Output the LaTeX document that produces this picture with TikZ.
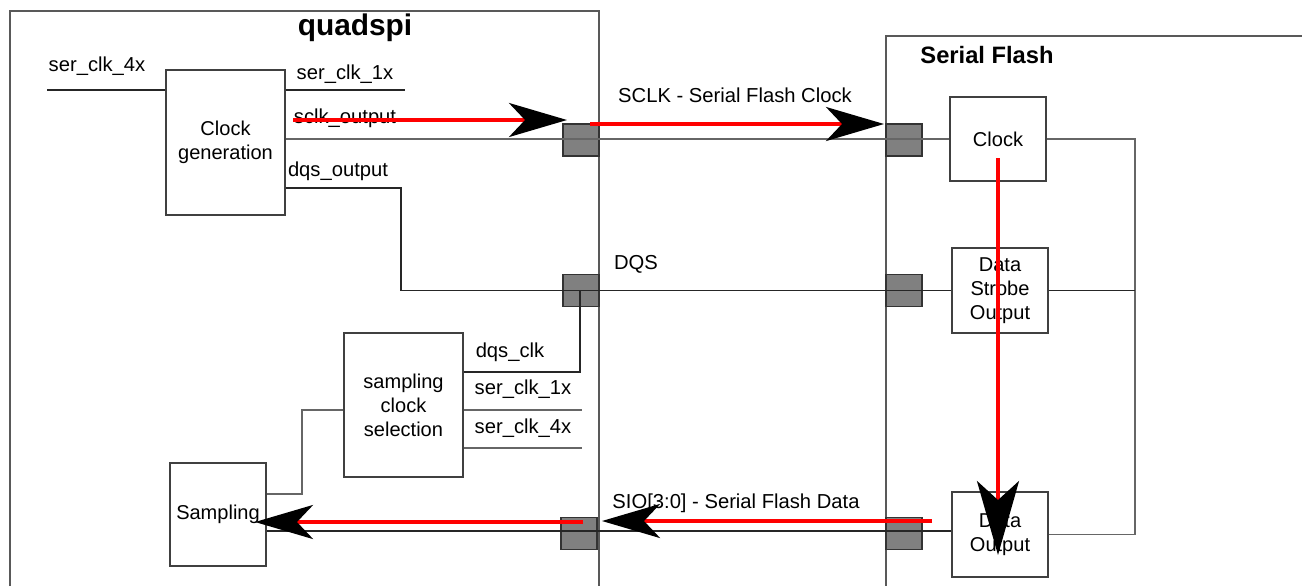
\documentclass[tikz,border=0pt]{standalone}
\usepackage{fontspec}
\setmainfont{Liberation Sans}
\usetikzlibrary{arrows.meta}

\tikzset{
  blk/.style={draw=black!75, fill=white, line width=0.6pt, align=center,
    inner sep=0pt, font=\fontsize{11.4}{13.7}\selectfont},
  pad/.style={draw=black!80, fill=black!50, line width=0.6pt,
    minimum width=0.72cm, minimum height=0.64cm, inner sep=0pt},
  wire/.style={black!85, line width=0.6pt},
  gwire/.style={black!60, line width=0.7pt},
  lbl/.style={font=\fontsize{11.5}{13}\selectfont, inner sep=0pt},
  sig/.style={red, line width=2.2pt,
    -{Stealth[color=black, length=1.16cm, width=0.68cm, inset=0.32cm]}},
  bigsig/.style={red, line width=2.2pt,
    -{Stealth[color=black, length=1.48cm, width=0.84cm, inset=0.38cm]}}
}

\begin{document}
\begin{tikzpicture}[x=0.02cm, y=-0.02cm]
  \useasboundingbox (0,0) rectangle (1302,586);

  % outer blocks
  \draw[black!65, line width=0.7pt] (10,586) |- (599,11) -- (599,586);
  \draw[black!65, line width=0.7pt] (1302,36) -| (886,586);
  \node[font=\bfseries\fontsize{17}{20}\selectfont] (qtitle) at (355,28) {quadspi};
  \node[font=\bfseries\fontsize{13.5}{15}\selectfont] (ftitle) at (987,55) {Serial Flash};

  % pads
  \node[pad] (padA1) at (581,140) {};
  \node[pad] (padB1) at (904,140) {};
  \node[pad] (padA2) at (581,290.5) {};
  \node[pad] (padB2) at (904,290.5) {};
  \node[pad] (padA3) at (579,533.5) {};
  \node[pad] (padB3) at (904,533.5) {};

  % blocks
  \node[blk, minimum width=2.38cm, minimum height=2.9cm] (clkgen) at (225.5,142.5) {Clock\\generation};
  \node[blk, minimum width=2.38cm, minimum height=2.88cm] (selclk) at (403.5,405) {sampling\\clock\\selection};
  \node[blk, minimum width=1.92cm, minimum height=2.06cm] (sampling) at (218,514.5) {Sampling};
  \node[blk, minimum width=1.92cm, minimum height=1.68cm] (clock) at (998,139) {Clock};
  \node[blk, minimum width=1.92cm, minimum height=1.7cm] (strobe) at (1000,290.5) {Data\\Strobe\\Output};
  \node[blk, minimum width=1.92cm, minimum height=1.7cm] (dataout) at (1000,534.5) {Data\\Output};

  % helper points
  \coordinate (in4) at (47,90);
  \coordinate (out1) at (405,90);
  \coordinate (dqsk) at (401,188);
  \coordinate (dqsc) at (580,372);
  \coordinate (sel1) at (582,410);
  \coordinate (sel4) at (582,448);
  \coordinate (selk) at (302,410);
  \coordinate (smpk) at (302,494);
  \coordinate (bus) at (1135,0);

  % wires
  \draw[wire] (in4) -- (in4 -| clkgen.west);
  \draw[wire] (out1 -| clkgen.east) -- (out1);
  \draw[gwire] (clkgen.east |- clock.west) -- (clock.west);
  \draw[wire] (dqsk -| clkgen.east) -- (dqsk) |- (strobe.west);
  \draw[wire] (dqsc -| selclk.east) -- (dqsc) -- (dqsc |- padA2.center);
  \draw[gwire] (sel1 -| selclk.east) -- (sel1);
  \draw[gwire] (sel4 -| selclk.east) -- (sel4);
  \draw[gwire] (selk -| selclk.west) -- (selk) -- (smpk) -- (smpk -| sampling.east);
  \draw[wire] (sampling.east |- 0,531) -- (dataout.west |- 0,531);
  \draw[gwire] (clock.east) -- (clock.east -| bus) -- (dataout.east -| bus) -- (dataout.east);
  \draw[wire] (strobe.east) -- (strobe.east -| bus);

  % labels
  \node[lbl] (l4x) at (97,66) {ser\_clk\_4x};
  \node[lbl] (l1x) at (345,74) {ser\_clk\_1x};
  \node[lbl] (lsclk) at (345,118) {sclk\_output};
  \node[lbl] (ldqso) at (338,171) {dqs\_output};
  \node[lbl] (lsclkbus) at (735,95) {SCLK - Serial Flash Clock};
  \node[lbl] (ldqs) at (636,264) {DQS};
  \node[lbl] (ldqsc) at (510,352) {dqs\_clk};
  \node[lbl] (lsel1) at (523,389) {ser\_clk\_1x};
  \node[lbl] (lsel4) at (523,428) {ser\_clk\_4x};
  \node[lbl] (lsio) at (736,503) {SIO[3:0] - Serial Flash Data};

  % signal flow
  \coordinate (s1a) at (293,120);
  \coordinate (s1b) at (567,120);
  \coordinate (s2a) at (590,124);
  \coordinate (s2b) at (884,124);
  \coordinate (s3a) at (998,158);
  \coordinate (s3b) at (998,555);
  \coordinate (s4a) at (932,521);
  \coordinate (s4b) at (602,521);
  \coordinate (s5a) at (583,522);
  \coordinate (s5b) at (255,522);
  \draw[sig] (s1a) -- (s1b);
  \draw[sig] (s2a) -- (s2b);
  \draw[bigsig] (s3a) -- (s3b);
  \draw[sig] (s4a) -- (s4b);
  \draw[sig] (s5a) -- (s5b);
\end{tikzpicture}
\end{document}
